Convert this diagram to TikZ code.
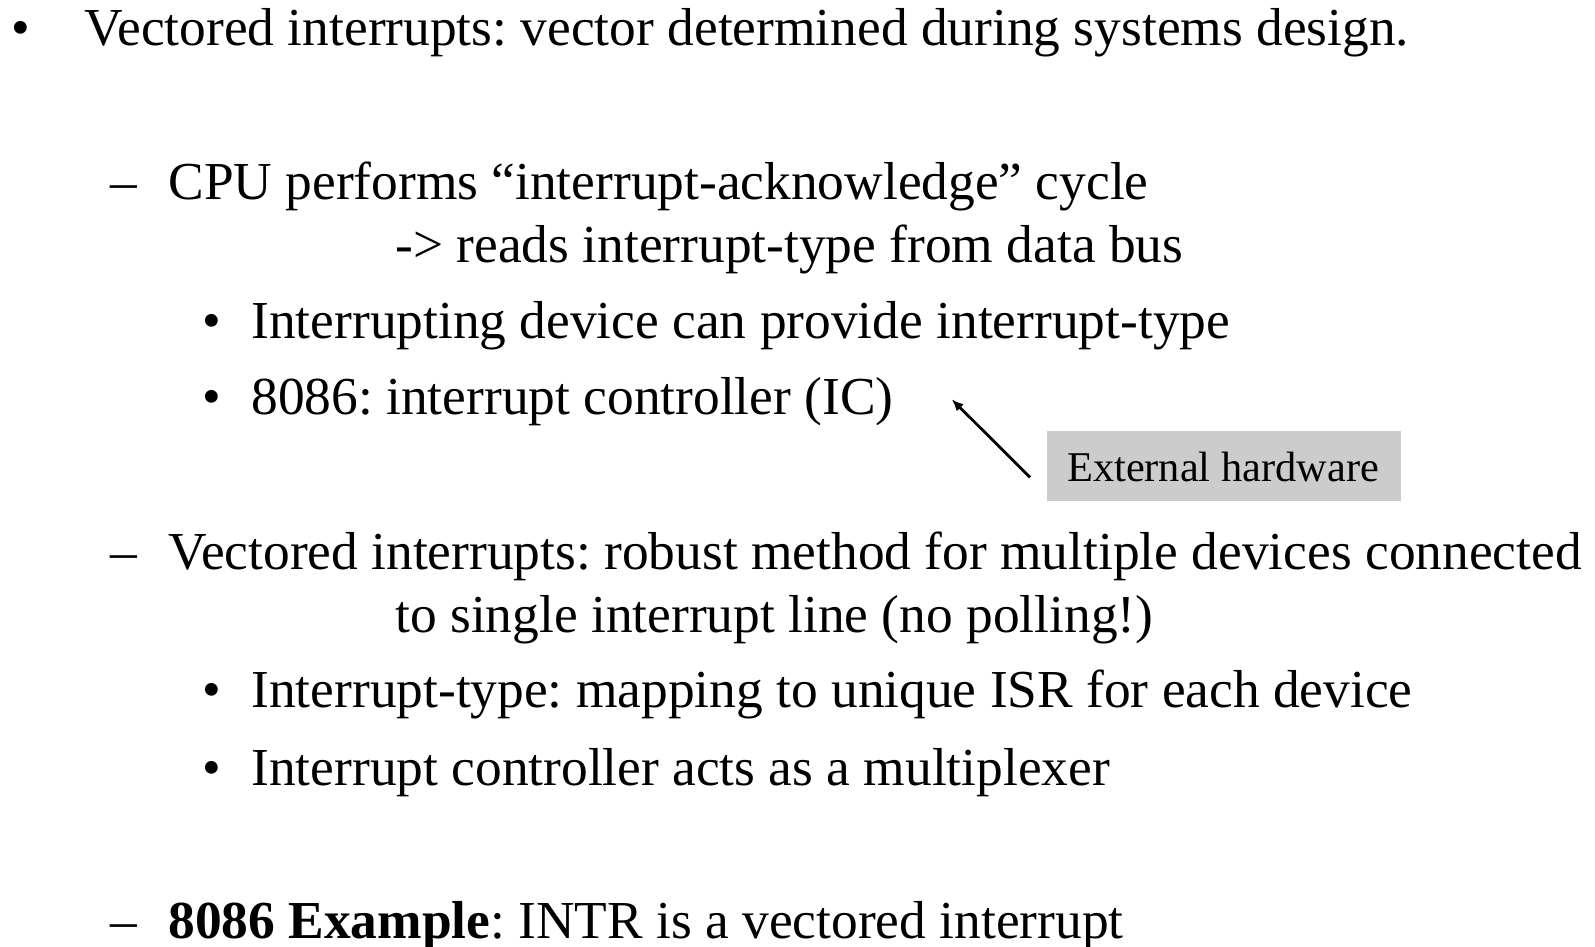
\documentclass[tikz,border=0pt]{standalone}
\usepackage{fontspec}
\setmainfont{Liberation Serif}
\usetikzlibrary{arrows.meta}
\frenchspacing
\begin{document}
\begin{tikzpicture}[x=0.5pt,y=-0.5pt,
  txt/.style={anchor=base west,inner sep=0pt,font=\fontsize{26.7}{30}\selectfont},
  bul/.style={anchor=base,inner sep=0pt,font=\fontsize{26.7}{30}\selectfont},
  boxlbl/.style={anchor=base west,inner sep=0pt,font=\fontsize{21.2}{24}\selectfont}]
\useasboundingbox (0,0) rectangle (1595,947);
\node[bul] (b1) at (20.5,45.8) {•};
\node[txt] (l1) at (84.4,45.8) {Vectored interrupts: vector determined during systems design.};
\node[txt] (d2) at (110,199) {–};
\node[txt] (l2) at (168,199) {CPU performs “interrupt-acknowledge” cycle};
\node[txt] (l3) at (395,262.5) {-> reads interrupt-type from data bus};
\node[bul] (b4) at (211.6,338.7) {•};
\node[txt] (l4) at (251,338.7) {Interrupting device can provide interrupt-type};
\node[bul] (b5) at (211.6,414) {•};
\node[txt] (l5) at (251,414) {8086: interrupt controller (IC)};
\fill[fill=black!20] (1046.7,431) rectangle (1401,500.7);
\node[boxlbl] (ext) at (1066.7,481.7) {External hardware};
\coordinate (atail) at (1030,477.3);
\coordinate (atip) at (951.7,399.3);
\draw[line width=1.4pt,-{Latex[length=6pt,width=5pt]}] (atail) -- (atip);
\node[txt] (d6) at (110,569.6) {–};
\node[txt] (l6) at (168,569.6) {Vectored interrupts: robust method for multiple devices connected};
\node[txt] (l7) at (395,632.7) {to single interrupt line (no polling!)};
\node[bul] (b8) at (211.6,707) {•};
\node[txt] (l8) at (251,707) {Interrupt-type: mapping to unique ISR for each device};
\node[bul] (b9) at (211.6,785) {•};
\node[txt] (l9) at (251,785) {Interrupt controller acts as a multiplexer};
\node[txt] (d10) at (110,938) {–};
\node[txt] (l10) at (168,938) {\textbf{8086 Example}: INTR is a vectored interrupt};
\end{tikzpicture}
\end{document}
